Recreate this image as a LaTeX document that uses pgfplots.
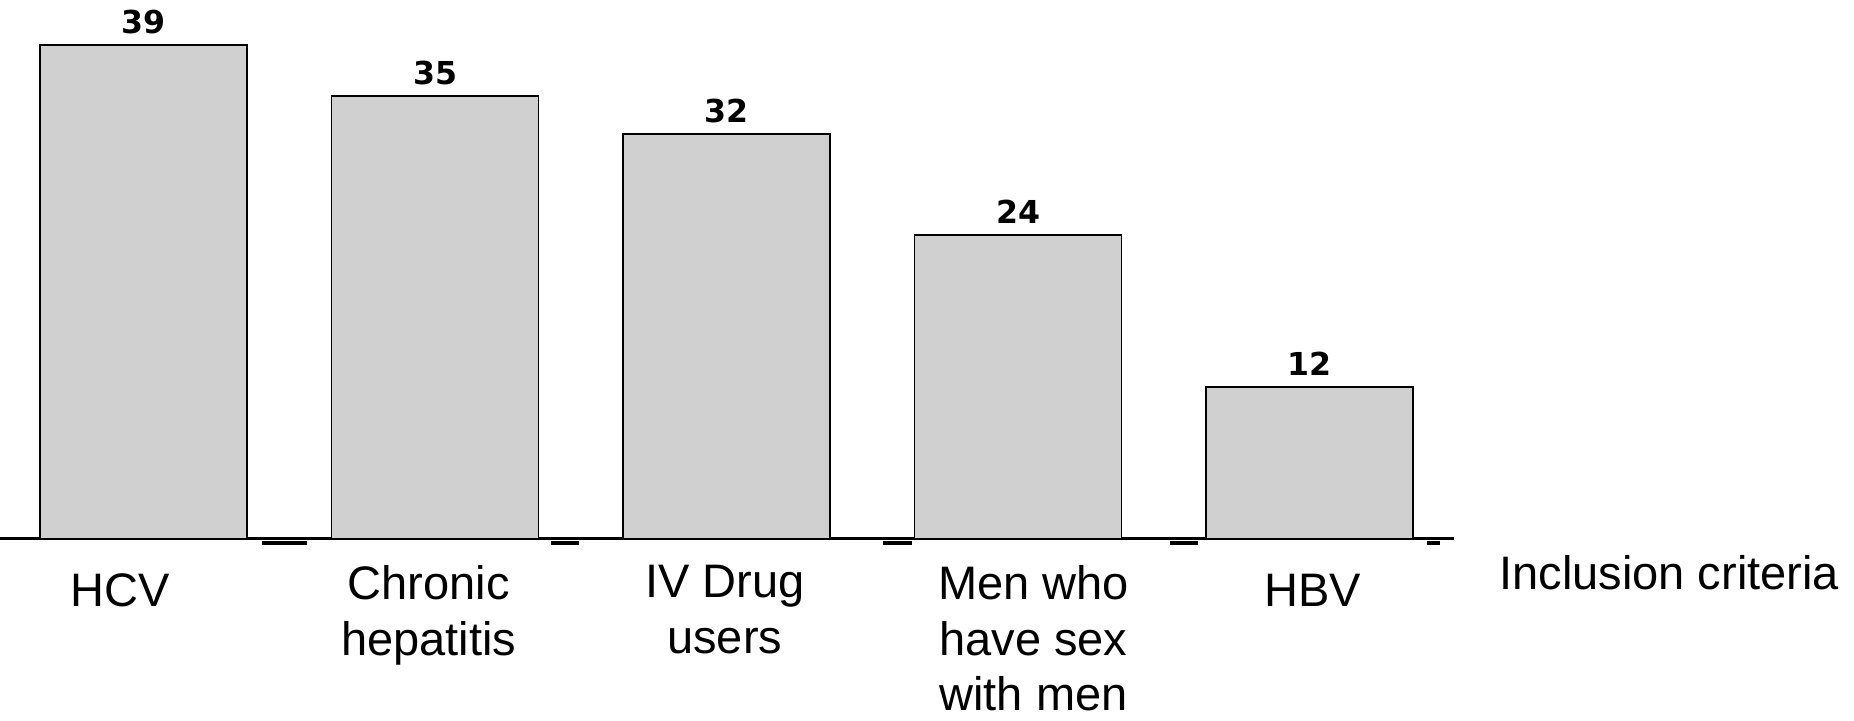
\documentclass[border=0pt]{standalone}
\usepackage{fontspec}
\setmainfont{Liberation Sans}
\newfontfamily\dejavu{DejaVu Sans}
\usepackage{pgfplots}
\pgfplotsset{compat=1.18}
\definecolor{barfill}{RGB}{208,208,208}
\begin{document}
\begin{tikzpicture}
\useasboundingbox (0,-91pt) rectangle (927pt,269.5pt);
\begin{axis}[
  scale only axis,
  width=727pt, height=269.5pt,
  xmin=-0.4923, xmax=4.4957,
  ymin=0, ymax=42.57,
  axis x line=bottom,
  axis y line=none,
  x axis line style={-, line width=1.5pt},
  major tick length=0pt,
  xtick={-0.079,0.978,1.994,3.053,4.012},
  xticklabels={{\rule{0pt}{20.5pt}HCV}, {Chronic\\hepatitis}, {IV Drug\\users}, {Men who\\have sex\\with men}, {\rule{0pt}{20.5pt}HBV}},
  xticklabel style={align=center, anchor=north, inner sep=0pt, yshift=-13pt,
    font=\fontsize{23.5}{27.8}\selectfont},
  xlabel={Inclusion criteria},
  xlabel style={at={(axis description cs:1,0)}, anchor=base west, inner sep=0pt,
    xshift=22.5pt, yshift=-25.5pt, font=\fontsize{23.5}{27.8}\selectfont},
  clip=false,
  unbounded coords=jump,
]
\addplot[ybar, bar width=0.71, fill=barfill, draw=black, line width=0.7pt,
  nodes near coords={\pgfmathprintnumber[assume math mode=true]{\pgfplotspointmeta}},
  nodes near coords style={font=\dejavu\bfseries\fontsize{15.8}{18}\selectfont,
    inner sep=0pt, anchor=south, yshift=5.3pt, text=black}]
  coordinates {(0,39) (1,35) (2,32) (3,24) (4,12)};
\addplot[black, line width=2pt, no markers] coordinates {
  (0.408,-0.28) (0.562,-0.28) (nan,nan)
  (1.398,-0.28) (1.495,-0.28) (nan,nan)
  (2.538,-0.28) (2.635,-0.28) (nan,nan)
  (3.523,-0.28) (3.617,-0.28) (nan,nan)
  (4.403,-0.28) (4.448,-0.28)
};
\end{axis}
\end{tikzpicture}
\end{document}
